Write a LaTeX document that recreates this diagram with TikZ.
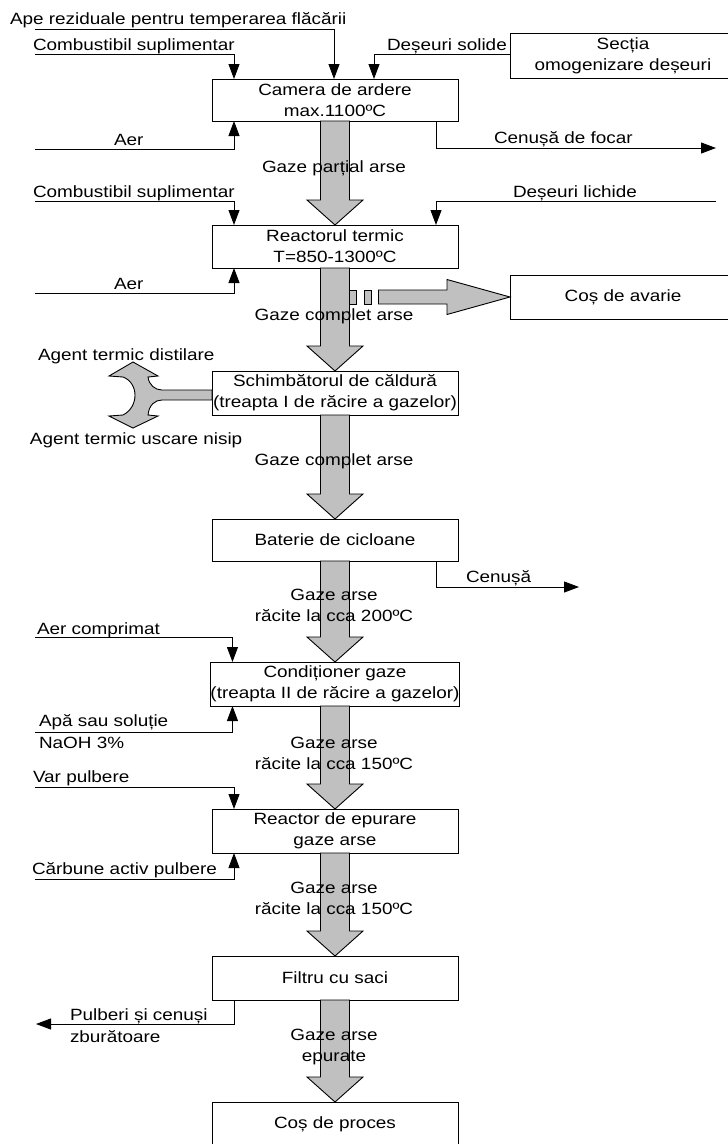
\documentclass[tikz,border=0pt]{standalone}
\usepackage{fontspec}
\setmainfont{Liberation Sans}[FakeStretch=1.16]
\usetikzlibrary{arrows.meta,calc}

\begin{document}
\begin{tikzpicture}[x=1pt,y=-1pt,
  every node/.style={font=\fontsize{16.3}{21}\selectfont, inner sep=0pt, outer sep=0pt},
  proc/.style={draw, line width=1pt, minimum width=246pt, minimum height=43pt, align=center},
  side/.style={draw, line width=1pt, minimum width=226pt, minimum height=44pt, align=center},
  lbl/.style={anchor=base west},
  clbl/.style={anchor=base},
  flow/.style={line width=0.9pt, -{Triangle[width=11pt,length=15pt]}},
  gas/.style={fill={rgb,255:red,192;green,192;blue,192}, draw=black, line width=0.9pt, line join=miter}
]
\useasboundingbox (0,0) rectangle (728,1144);

% process boxes of the main line
\node[proc, minimum height=42pt] (camera)  at (335,100)   {Camera de ardere\\max.1100ºC};
\node[proc] (reactor) at (335,246.5) {Reactorul termic\\T=850-1300ºC};
\node[proc, minimum height=44pt] (schimb)  at (335,393)   {Schimbătorul de căldură\\(treapta I de răcire a gazelor)};
\node[proc, minimum height=42pt] (baterie) at (335,540)   {Baterie de cicloane};
\node[proc, minimum height=44pt] (cond)    at (335,684)   {Condiționer gaze\\(treapta II de răcire a gazelor)};
\node[proc, minimum height=44pt] (epur)    at (335,831)   {Reactor de epurare\\gaze arse};
\node[proc, minimum height=44pt] (filtru)  at (335,978)   {Filtru cu saci};
\node[proc, minimum height=44pt] (cosproc) at (335,1124)  {Coș de proces};

% side boxes
\node[side, minimum height=45pt] (sectia) at (623,55.5) {Secția\\omogenizare deșeuri};
\node[side] (avarie) at (623,297) {Coș de avarie};

% broad gas flow arrows
\newcommand\gasflow[2]{%
  \filldraw[gas] ($(#1.south)+(-14.5,0)$) -- ($(#2.north)+(-14.5,-25)$)
    -- ($(#2.north)+(-28,-25)$) -- (#2.north) -- ($(#2.north)+(28,-25)$)
    -- ($(#2.north)+(14.5,-25)$) -- ($(#1.south)+(14.5,0)$) -- cycle;}
\gasflow{camera}{reactor}
\gasflow{reactor}{schimb}
\gasflow{schimb}{baterie}
\gasflow{baterie}{cond}
\gasflow{cond}{epur}
\gasflow{epur}{filtru}
\gasflow{filtru}{cosproc}

% emergency bypass towards the emergency stack
\coordinate (bypass) at (349.5,297);
\filldraw[gas] ($(bypass)+(0,-7)$) rectangle ($(bypass)+(7,7)$);
\filldraw[gas] ($(bypass)+(14.5,-7)$) rectangle ($(bypass)+(21.5,7)$);
\filldraw[gas] ($(bypass)+(29,-7)$) -- ($(bypass)+(97.5,-7)$) -- ($(bypass)+(97.5,-17.5)$)
  -- (avarie.west) -- ($(bypass)+(97.5,17.5)$) -- ($(bypass)+(97.5,7)$) -- ($(bypass)+(29,7)$) -- cycle;

% split arrow of the heat exchanger
\begin{scope}[shift={(schimb.west)}]
\filldraw[gas] (-79,-31) -- (-54,-17) -- (-64,-16) .. controls (-63,-8) and (-57,-3) .. (-50,-3)
  -- (0,-3) -- (0,7) -- (-50,7) .. controls (-57,7) and (-63,12) .. (-64,22) -- (-54,23)
  -- (-79,35) -- (-103,23) -- (-89,22) .. controls (-73,14) and (-73,-10) .. (-89,-16)
  -- (-103,-17) -- cycle;
\end{scope}
\node[lbl] (agdist) at (38,360) {Agent termic distilare};
\node[lbl] (agnisip) at (30,444) {Agent termic uscare nisip};

% inputs and outputs of the combustion chamber
\coordinate (apein) at (35,29);
\coordinate (comb1) at (35,54);
\coordinate (aer1) at (35,149);
\coordinate (cenfocar) at (716,148);
\draw[flow] (apein) -| ($(camera.north)+(-1,0)$);
\draw[flow] (comb1) -| ($(camera.north west)+(22,0)$);
\draw[flow] (sectia.west |- 0,54) -| ($(camera.north west)+(162,0)$);
\draw[flow] (aer1) -| ($(camera.south west)+(22,0)$);
\draw[flow] ($(camera.south west)+(224,0)$) |- (cenfocar);
\node[lbl] (tape) at (10,24) {Ape reziduale pentru temperarea flăcării};
\node[lbl] (tcomb1) at (33,50) {Combustibil suplimentar};
\node[lbl] (tsolide) at (387,50) {Deșeuri solide};
\node[lbl] (taer1) at (114,145) {Aer};
\node[lbl] (tcenfocar) at (494,143) {Cenușă de focar};
\node[clbl] (tg1) at (334,172) {Gaze parțial arse};

% inputs of the thermal reactor
\coordinate (comb2) at (35,201);
\coordinate (lichide) at (716,201);
\coordinate (aer2) at (35,293);
\draw[flow] (comb2) -| ($(reactor.north west)+(22,0)$);
\draw[flow] (lichide) -| ($(reactor.north west)+(224,0)$);
\draw[flow] (aer2) -| ($(reactor.south west)+(22,0)$);
\node[lbl] (tcomb2) at (33,197) {Combustibil suplimentar};
\node[lbl] (tlichide) at (513,197) {Deșeuri lichide};
\node[lbl] (taer2) at (114,289) {Aer};
\node[clbl] (tg2) at (334,320) {Gaze complet arse};
\node[clbl] (tg3) at (334,465) {Gaze complet arse};

% cyclones
\coordinate (cenusa) at (579,587);
\draw[flow] ($(baterie.south west)+(224,0)$) |- (cenusa);
\node[lbl] (tcenusa) at (466,582) {Cenușă};
\node[clbl, align=center] (tg4) at (334,621) {Gaze arse\\răcite la cca 200ºC};

% gas conditioner
\coordinate (aercomp) at (35,637);
\coordinate (apa) at (35,732);
\draw[flow] (aercomp) -| ($(cond.north west)+(22,0)$);
\draw[flow] (apa) -| ($(cond.south west)+(22,0)$);
\node[lbl] (taercomp) at (37,634) {Aer comprimat};
\node[lbl] (tapa) at (39,726) {Apă sau soluție};
\node[lbl] (tnaoh) at (39,748) {NaOH 3\%};
\node[clbl, align=center] (tg5) at (334,769) {Gaze arse\\răcite la cca 150ºC};

% purification reactor
\coordinate (var) at (35,787);
\coordinate (carbune) at (35,879);
\draw[flow] (var) -| ($(epur.north west)+(22,0)$);
\draw[flow] (carbune) -| ($(epur.south west)+(22,0)$);
\node[lbl] (tvar) at (33,782) {Var pulbere};
\node[lbl] (tcarbune) at (32,874) {Cărbune activ pulbere};
\node[clbl, align=center] (tg6) at (334,914) {Gaze arse\\răcite la cca 150ºC};

% bag filter
\coordinate (pulberi) at (36,1024);
\draw[flow] ($(filtru.south west)+(22,0)$) |- (pulberi);
\node[lbl] (tpulberi) at (70,1020) {Pulberi și cenuși};
\node[lbl] (tzbur) at (70,1042) {zburătoare};
\node[clbl, align=center] (tg7) at (334,1061) {Gaze arse\\epurate};
\end{tikzpicture}
\end{document}
